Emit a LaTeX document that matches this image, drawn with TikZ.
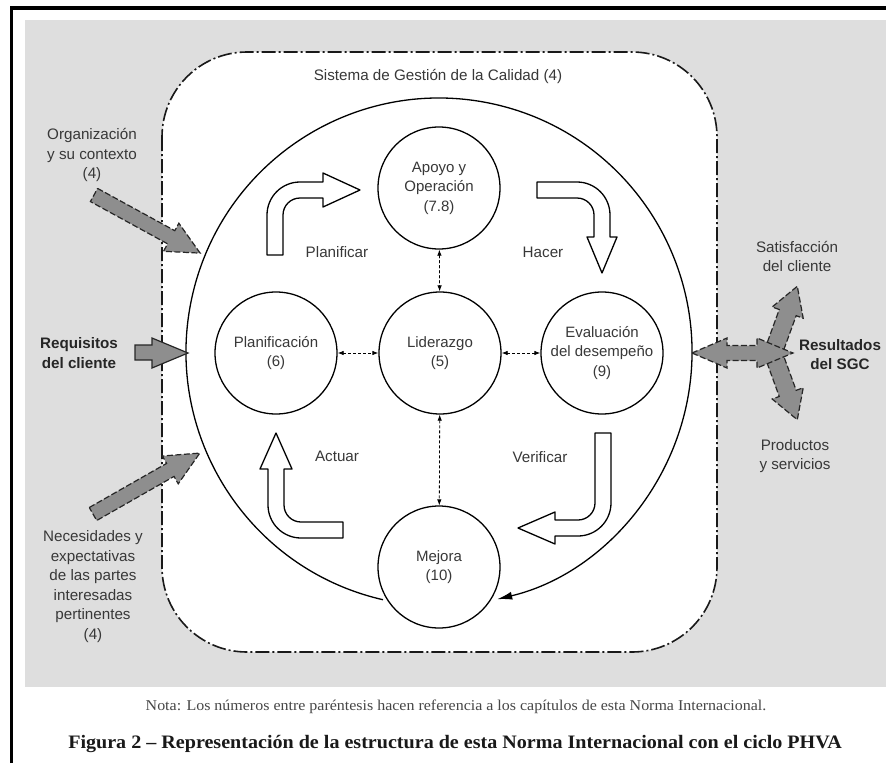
\documentclass[tikz,border=0pt]{standalone}
\usepackage{fontspec}
\setmainfont{Liberation Serif}
\setsansfont{Liberation Sans}
\newfontfamily\notafont[FakeStretch=1.065]{Liberation Serif}
\newfontfamily\figfont[FakeStretch=1.057]{Liberation Serif}
\usetikzlibrary{arrows.meta}

\definecolor{panel}{HTML}{DEDEDE}
\definecolor{blockgray}{HTML}{8E8E8E}
\definecolor{ink}{HTML}{383838}

\tikzset{
  lbl/.style={font=\sffamily\fontsize{15.2}{19.5}\selectfont, text=ink, align=center, inner sep=0pt},
  lblbold/.style={font=\sffamily\bfseries\fontsize{15.2}{19.5}\selectfont, text=black!85, align=center, inner sep=0pt},
  stagenode/.style={circle, draw=black, line width=1.3pt, minimum size=122pt, inner sep=0pt, fill=white,
    font=\sffamily\fontsize{15}{19.5}\selectfont, text=ink, align=center},
  duallink/.style={densely dashed, line width=0.8pt, {Latex[length=6pt,width=4.5pt]}-{Latex[length=6pt,width=4.5pt]}},
  phvaarrow/.style={draw=black, line width=1.3pt, fill=white, line join=round},
  grayblock/.style={fill=blockgray, draw=black!85, line width=1.2pt, dash pattern=on 6pt off 2.5pt, line join=miter},
  grayblocksolid/.style={fill=blockgray, draw=black!85, line width=1.2pt, line join=miter},
  systembox/.style={draw=black!90, line width=1.6pt, fill=white, rounded corners=85pt,
    dash pattern=on 14pt off 3pt on 2pt off 3pt},
}

\begin{document}
\begin{tikzpicture}[x=1pt, y=1pt, yscale=-1]
  \useasboundingbox (0,0) rectangle (886,763);
  \fill[white] (0,0) rectangle (886,763);

  % page frame and grey panel
  \fill[panel] (25,20) rectangle (886,687);
  \draw[line width=3.5pt] (11.5,763) -- (11.5,8) -- (886,8);

  % quality management system boundary
  \draw[systembox] (162,52) rectangle (717,652);
  \node[lbl] (sgc) at (438,76) {Sistema de Gestión de la Calidad (4)};

  % the PHVA cycle ring, returning to Mejora
  \draw[line width=1.3pt, -{Latex[length=15pt,width=8pt]}]
    (382.95,599.7) arc[start angle=102.8, end angle=436.7, x radius=253pt, y radius=254pt];

  % stages
  \node[stagenode] (apoyo)  at (439,188) {Apoyo y\\Operación\\(7.8)};
  \node[stagenode] (plan)   at (276,353) {Planificación\\(6)};
  \node[stagenode] (lider)  at (440,353) {Liderazgo\\(5)};
  \node[stagenode] (eval)   at (602,353) {Evaluación\\del desempeño\\(9)};
  \node[stagenode] (mejora) at (439,567) {Mejora\\(10)};

  \draw[duallink] (apoyo) -- (lider);
  \draw[duallink] (lider) -- (mejora);
  \draw[duallink] (plan) -- (lider);
  \draw[duallink] (lider) -- (eval);

  % bent hollow arrows of the cycle
  % Planificar
  \draw[phvaarrow] (267,255) -- (267,215) arc[start angle=180, end angle=270, radius=33pt]
    -- (323,182) -- (323,173) -- (360,190) -- (323,207) -- (323,198) -- (300,198)
    arc[start angle=270, end angle=180, radius=17pt] -- (283,255) -- cycle;
  % Hacer
  \draw[phvaarrow] (537,182) -- (577,182) arc[start angle=270, end angle=360, radius=33pt]
    -- (610,237) -- (617,237) -- (602,273) -- (587,237) -- (594,237) -- (594,215)
    arc[start angle=360, end angle=270, radius=17pt] -- (537,198) -- cycle;
  % Verificar
  \draw[phvaarrow] (611,433) -- (611,503) arc[start angle=0, end angle=90, radius=33pt]
    -- (555,536) -- (555,544) -- (518,528) -- (555,512) -- (555,520) -- (578,520)
    arc[start angle=90, end angle=0, radius=17pt] -- (595,433) -- cycle;
  % Actuar
  \draw[phvaarrow] (343,538) -- (301,538) arc[start angle=90, end angle=180, radius=33pt]
    -- (268,469) -- (260,469) -- (276,433) -- (292,469) -- (284,469) -- (284,505)
    arc[start angle=180, end angle=90, radius=17pt] -- (343,522) -- cycle;

  \node[lbl] (tplan) at (337,252) {Planificar};
  \node[lbl] (thacer) at (543,252) {Hacer};
  \node[lbl] (tverif) at (540,457) {Verificar};
  \node[lbl] (tactuar) at (337,456) {Actuar};

  % inputs
  \node[lbl] (org) at (92,155) {Organización\\y su contexto\\(4)};
  \begin{scope}[shift={(94,195)}, rotate=28.7]
    \draw[grayblock] (0,-7.5) -- (88,-7.5) -- (88,-16) -- (121,0) -- (88,16) -- (88,7.5) -- (0,7.5) -- cycle;
  \end{scope}

  \node[lblbold] (req) at (79,353) {Requisitos\\del cliente};
  \draw[grayblocksolid] (135,345) -- (152,345) -- (152,338) -- (188,353) -- (152,368) -- (152,360) -- (135,360) -- cycle;

  \node[lbl] (nec) at (93,586.5) {Necesidades y\\expectativas\\de las partes\\interesadas\\pertinentes\\(4)};
  \begin{scope}[shift={(93,514)}, rotate=-29.7]
    \draw[grayblock] (0,-7.5) -- (89,-7.5) -- (89,-16) -- (123,0) -- (89,16) -- (89,7.5) -- (0,7.5) -- cycle;
  \end{scope}

  % outputs: two branches under a double-headed arrow
  \begin{scope}[shift={(773,353)}, rotate=-70]
    \draw[grayblock] (0,-9) -- (43,-9) -- (43,-16.5) -- (71,0) -- (43,16.5) -- (43,9) -- (0,9) -- cycle;
  \end{scope}
  \begin{scope}[shift={(773,353)}, rotate=70]
    \draw[grayblock] (0,-9) -- (43,-9) -- (43,-16.5) -- (71,0) -- (43,16.5) -- (43,9) -- (0,9) -- cycle;
  \end{scope}
  \draw[grayblock] (692,353) -- (727,338) -- (727,345.5) -- (757,345.5) -- (757,338) -- (793,353)
    -- (757,368) -- (757,360.5) -- (727,360.5) -- (727,368) -- cycle;
  \node[lbl] (sat) at (797,256.5) {Satisfacción\\del cliente};
  \node[lblbold] (res) at (840,354.5) {Resultados\\del SGC};
  \node[lbl] (prod) at (795,456) {Productos\\y servicios};

  % notes below the panel
  \node[font=\notafont\fontsize{15}{17}\selectfont, text=black!72, inner sep=0pt] (nota) at (456,707)
    {Nota: Los números entre paréntesis hacen referencia a los capítulos de esta Norma Internacional.};
  \node[font=\figfont\bfseries\fontsize{19}{22}\selectfont, text=black!90, inner sep=0pt] (fig) at (455,744)
    {Figura 2 – Representación de la estructura de esta Norma Internacional con el ciclo PHVA};
\end{tikzpicture}
\end{document}
